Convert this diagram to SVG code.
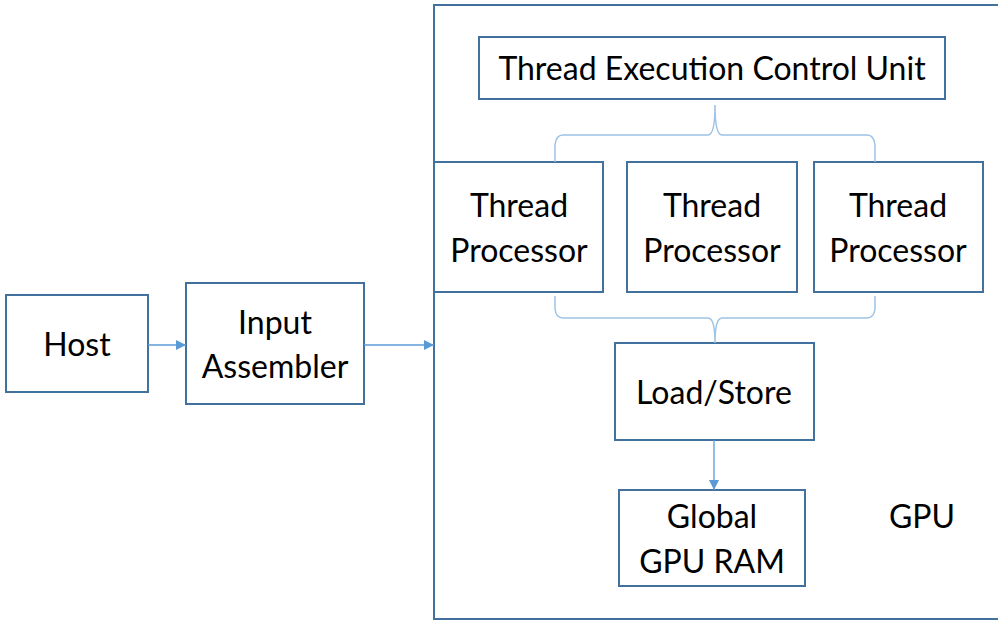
<svg xmlns="http://www.w3.org/2000/svg" width="998" height="620" viewBox="0 0 998 620">
  <defs>
    <marker id="arrow" viewBox="0 0 10 10" refX="10" refY="5" markerWidth="10" markerHeight="10" markerUnits="userSpaceOnUse" orient="auto">
      <path d="M0,0 L10,5 L0,10 Z" fill="#5B9BD5"/>
    </marker>
    <style>
      .box { fill: #FFFFFF; stroke: #41719C; stroke-width: 2; }
      .label { font-family: Lato, "Open Sans", "Liberation Sans", sans-serif; font-size: 32px; fill: #000000; text-anchor: middle; }
      .link { fill: none; stroke: #5B9BD5; stroke-width: 1.3; }
      .brace { fill: none; stroke: #9DC3E6; stroke-width: 1.5; }
    </style>
  </defs>

  <rect width="998" height="620" fill="#FFFFFF"/>

  <!-- GPU container -->
  <g id="gpu">
    <rect class="box" x="434" y="5" width="570" height="614"/>
    <text class="label" x="922" y="528">GPU</text>
  </g>

  <g id="host">
    <rect class="box" x="6" y="295" width="142" height="97"/>
    <text class="label" x="77" y="356">Host</text>
  </g>

  <g id="input-assembler">
    <rect class="box" x="186" y="283" width="178" height="121"/>
    <text class="label" x="275" y="334">Input</text>
    <text class="label" x="275" y="378">Assembler</text>
  </g>

  <g id="thread-execution-control-unit">
    <rect class="box" x="479" y="37" width="466" height="62"/>
    <text class="label" x="712" y="80">Thread Execution Control Unit</text>
  </g>

  <g id="thread-processor-1">
    <rect class="box" x="434" y="162" width="169" height="130"/>
    <text class="label" x="519" y="217">Thread</text>
    <text class="label" x="519" y="262">Processor</text>
  </g>

  <g id="thread-processor-2">
    <rect class="box" x="627" y="162" width="170" height="130"/>
    <text class="label" x="712" y="217">Thread</text>
    <text class="label" x="712" y="262">Processor</text>
  </g>

  <g id="thread-processor-3">
    <rect class="box" x="814" y="162" width="169" height="130"/>
    <text class="label" x="898" y="217">Thread</text>
    <text class="label" x="898" y="262">Processor</text>
  </g>

  <g id="load-store">
    <rect class="box" x="615" y="343" width="199" height="97"/>
    <text class="label" x="714" y="404">Load/Store</text>
  </g>

  <g id="global-gpu-ram">
    <rect class="box" x="619" y="490" width="186" height="96"/>
    <text class="label" x="712" y="528">Global</text>
    <text class="label" x="712" y="573">GPU RAM</text>
  </g>

  <!-- connectors -->
  <g id="connectors">
    <line class="link" x1="148" y1="345" x2="186" y2="345" marker-end="url(#arrow)"/>
    <line class="link" x1="364" y1="345" x2="434" y2="345" marker-end="url(#arrow)"/>
    <line class="link" x1="714" y1="440" x2="714" y2="490" marker-end="url(#arrow)"/>
    <path class="brace" d="M555,162 L555,145 Q556,135 563,135 L708,135 Q715,135 715,105 Q715,135 722,135 L867,135 Q874,135 875,145 L875,162"/>
    <path class="brace" d="M555,296 L555,309 Q556,318 563,318 L708,318 Q715,318 715,343 Q715,318 722,318 L867,318 Q874,318 875,309 L875,296"/>
  </g>
</svg>
